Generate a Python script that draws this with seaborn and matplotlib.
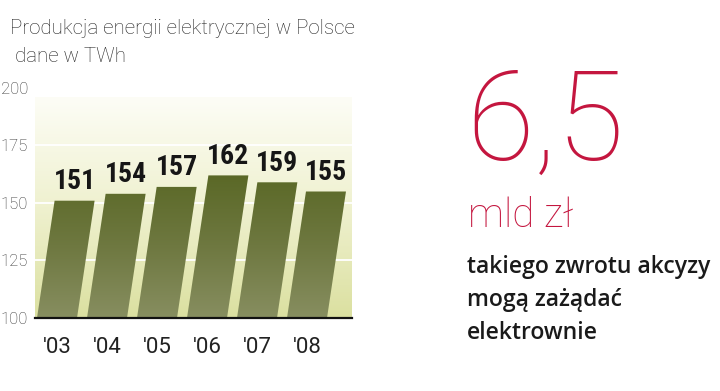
import numpy as np
import pandas as pd
import matplotlib
matplotlib.use("Agg")
import matplotlib.pyplot as plt
import seaborn as sns
from matplotlib.patches import Polygon
from matplotlib.colors import LinearSegmentedColormap

# dane
years = ["'03", "'04", "'05", "'06", "'07", "'08"]
production = [151, 154, 157, 162, 159, 155]
yticks = [100, 125, 150, 175, 200]

df = pd.DataFrame({"rok": years, "twh": production})

sns.set_theme(style="white")
plt.rcParams['font.family'] = ['Roboto', 'DejaVu Sans']

fig = plt.figure(figsize=(7.2, 3.91), dpi=100)
ax = fig.add_axes([35/720, 73/391, 317/720, 230/391])

sns.barplot(data=df, x="rok", y="twh", ax=ax, width=0.8, color="#6b7636")

y0, y1 = 100, 200
panel_top = 195.7
slant = 0.0069  # przesuniecie w poziomie na 1 TWh

xlim = (-0.44, 5.9)

# tlo z gradientem
bg_cmap = LinearSegmentedColormap.from_list("bg", ["#fdfdf6", "#eff1cf", "#dbe0a0"])
grad = np.linspace(0, 1, 256).reshape(-1, 1)
ax.imshow(grad, extent=(xlim[0], xlim[1], y0, panel_top), origin="upper",
          aspect="auto", cmap=bg_cmap, zorder=0)

for yv in [125, 150, 175]:
    ax.axhline(yv, color="white", lw=1.3, zorder=1)

# pochylone slupki z gradientem
bar_cmap = LinearSegmentedColormap.from_list("bar", ["#5a6826", "#6e7840", "#878e60"])
for p, v in zip(list(ax.patches), production):
    x0 = p.get_x()
    w = p.get_width()
    h = p.get_height()
    s = slant * (h - y0)
    verts = [(x0, y0), (x0 + w, y0), (x0 + w + s, h), (x0 + s, h)]
    poly = Polygon(verts, closed=True, facecolor="none", edgecolor="none", zorder=2)
    ax.add_patch(poly)
    im = ax.imshow(grad, extent=(x0, x0 + w + s, y0, 163), origin="upper",
                   aspect="auto", cmap=bar_cmap, zorder=2)
    im.set_clip_path(poly)
    p.set_visible(False)
    ax.text(x0 + w / 2 + s, h + 2.5, str(v), ha="center", va="bottom",
            fontsize=20, fontweight="bold", fontstretch="condensed",
            family=["Roboto Condensed", "DejaVu Sans"], color="#161616", zorder=3)

ax.set_xlim(*xlim)
ax.set_ylim(y0, y1)
ax.set_yticks(yticks)
ax.set_yticklabels([str(t) for t in yticks], fontsize=12, color="#333333",
                   fontweight="light")
ax.tick_params(axis="y", length=0, pad=5)
ax.tick_params(axis="x", length=0, pad=14, labelsize=16, labelcolor="#222222")
ax.set_xlabel("")
ax.set_ylabel("")
for sp in ["top", "right", "left"]:
    ax.spines[sp].set_visible(False)
ax.spines["bottom"].set_color("#111111")
ax.spines["bottom"].set_linewidth(1.6)
ax.grid(False)

# tytuly
fig.text(10/720, 1 - 34/391, "Produkcja energii elektrycznej w Polsce",
         fontsize=14.8, fontweight="light", color="#222222", va="baseline")
fig.text(15/720, 1 - 62/391, "dane w TWh",
         fontsize=14.8, fontweight="light", color="#222222", va="baseline")

# komentarz po prawej
red = "#c4163f"
fig.text(466/720, 1 - 160/391, "6,5", fontsize=89, fontweight="light",
         family=["Roboto", "DejaVu Sans"], color=red, va="baseline")
fig.text(468/720, 1 - 227/391, "mld zł", fontsize=29, fontweight="light",
         family=["Roboto", "DejaVu Sans"], color=red, va="baseline")
for i, line in enumerate(["takiego zwrotu akcyzy", "mogą zażądać", "elektrownie"]):
    fig.text(467/720, 1 - (273 + 33 * i)/391, line, fontsize=16.6,
             fontweight="semibold", family=["Open Sans", "DejaVu Sans"],
             color="#1a1a1a", va="baseline")

fig.savefig("out.png", dpi=100)
